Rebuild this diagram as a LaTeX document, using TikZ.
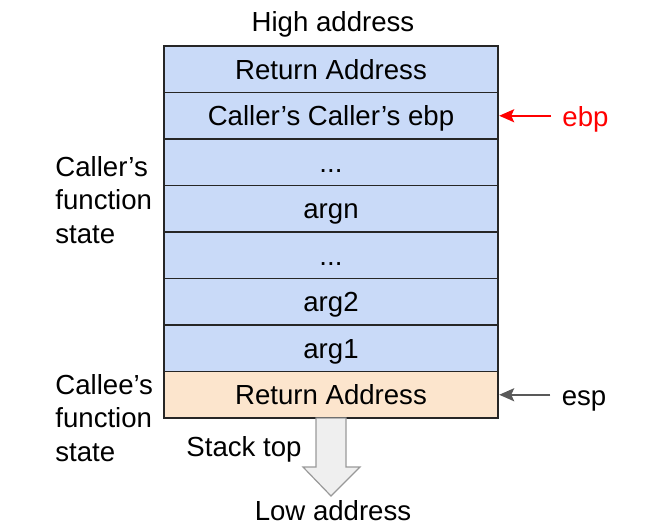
\documentclass[tikz,border=0pt]{standalone}
\usepackage{fontspec}
\setmainfont{Liberation Sans}
\usetikzlibrary{positioning,arrows.meta}

\definecolor{slotblue}{HTML}{C9DAF8}
\definecolor{slotorange}{HTML}{FCE5CD}
\definecolor{ptrgray}{HTML}{595959}
\definecolor{topfill}{HTML}{EFEFEF}
\definecolor{topline}{HTML}{999999}

\tikzset{
    slot/.style={rectangle, draw=black!85, line width=0.9pt, fill=slotblue,
        minimum width=167pt, minimum height=23.25pt, inner sep=0pt, outer sep=0pt,
        text height=10pt, text depth=0pt},
    tag/.style={inner sep=5.5pt, text height=10pt, text depth=0pt},
    ptr/.style={line width=1pt, -{Stealth[length=7.5pt,width=6.5pt,inset=1.5pt]}}
}

\begin{document}
\begin{tikzpicture}[x=0.5pt, y=-0.5pt,
    every node/.style={font=\fontsize{13.8}{16.75}\selectfont}]
\useasboundingbox (0,0) rectangle (671,527);

% the stack, high address at the top
\node[slot] (retcaller) at (331,69.25) {Return Address};
\node[slot, below=0pt of retcaller] (oldebp) {Caller’s Caller’s ebp};
\node[slot, below=0pt of oldebp] (dotsa) {...};
\node[slot, below=0pt of dotsa] (argn) {argn};
\node[slot, below=0pt of argn] (dotsb) {...};
\node[slot, below=0pt of dotsb] (argtwo) {arg2};
\node[slot, below=0pt of argtwo] (argone) {arg1};
\node[slot, fill=slotorange, below=0pt of argone] (retcallee) {Return Address};

\node (high) at (333,24) {High address};
\node (low) at (333,511) {Low address};
\node (stacktop) at (244,449) {Stack top};

% growth arrow
\draw[topline, fill=topfill, line width=0.6pt]
    ([xshift=-7.5pt]retcallee.south) -- ([xshift=7.5pt]retcallee.south)
    -- ++(0,49) -- ++(14,0) -- ++(-29,29) -- ++(-28,-29) -- ++(13,0) -- cycle;

% registers
\node[tag, text=red] (ebp) at (585.5,116) {ebp};
\node[tag] (esp) at (584,395) {esp};
\draw[ptr, red] (ebp.west |- oldebp.east) -- ([xshift=0.6pt]oldebp.east);
\draw[ptr, ptrgray] (esp.west |- retcallee.east) -- ([xshift=0.6pt]retcallee.east);

% frames
\node[anchor=west, align=left, inner sep=0pt] (callerstate) at (55,200)
    {Caller’s\\function\\state};
\node[anchor=west, align=left, inner sep=0pt] (calleestate) at (55,418)
    {Callee’s\\function\\state};
\end{tikzpicture}
\end{document}
